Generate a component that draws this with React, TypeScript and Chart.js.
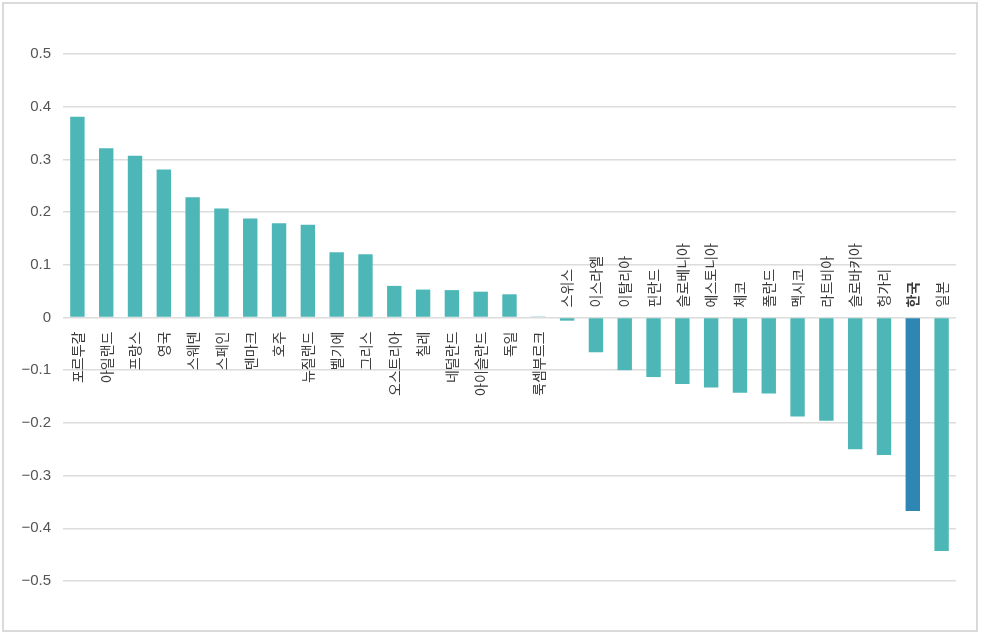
import React, { useEffect, useRef } from "react";
import { Chart, registerables } from "chart.js";

Chart.register(...registerables);

const categories: string[] = [
  "포르투갈", "아일랜드", "프랑스", "영국", "스웨덴", "스페인", "덴마크", "호주",
  "뉴질랜드", "벨기에", "그리스", "오스트리아", "칠레", "네덜란드", "아이슬란드", "독일",
  "룩셈부르크", "스위스", "이스라엘", "이탈리아", "핀란드", "슬로베니아", "에스토니아", "체코",
  "폴란드", "멕시코", "라트비아", "슬로바키아", "헝가리", "한국", "일본",
];

const values: number[] = [
  0.381, 0.321, 0.307, 0.281, 0.228, 0.207, 0.188, 0.179,
  0.176, 0.124, 0.120, 0.060, 0.053, 0.052, 0.049, 0.044,
  0.002, -0.006, -0.066, -0.100, -0.113, -0.126, -0.133, -0.143,
  -0.144, -0.188, -0.196, -0.250, -0.261, -0.367, -0.443,
];

const highlight = "한국";
const yMin = -0.5;
const yMax = 0.5;
const yStep = 0.1;

const TEAL = "#4db7b8";
const BLUE = "#2e86b2";

const labelPlugin = {
  id: "zeroLabels",
  afterDatasetsDraw(chart: any) {
    const { ctx, scales } = chart;
    const xs = scales.x;
    const ys = scales.y;
    const y0 = ys.getPixelForValue(0);
    categories.forEach((name, i) => {
      const x = xs.getPixelForValue(i);
      const v = values[i];
      ctx.save();
      ctx.fillStyle = "#3a3a3a";
      ctx.font = (name === highlight ? "bold " : "") + '14px "Noto Sans CJK KR", sans-serif';
      ctx.textBaseline = "middle";
      if (v >= 0) {
        ctx.translate(x, y0 + 14);
        ctx.rotate(-Math.PI / 2);
        ctx.textAlign = "right";
      } else {
        ctx.translate(x, y0 - 10);
        ctx.rotate(-Math.PI / 2);
        ctx.textAlign = "left";
      }
      ctx.fillText(name, 0, 0);
      ctx.restore();
    });
  },
};

export default function App() {
  const ref = useRef<HTMLCanvasElement | null>(null);
  useEffect(() => {
    if (!ref.current) return;
    const chart = new Chart(ref.current, {
      type: "bar",
      data: {
        labels: categories,
        datasets: [
          {
            data: values,
            backgroundColor: categories.map((c) => (c === highlight ? BLUE : TEAL)),
            barPercentage: 0.5,
            categoryPercentage: 1,
          },
        ],
      },
      options: {
        animation: false,
        responsive: false,
        layout: { padding: { left: 0, top: 54, right: 27, bottom: 56 } },
        plugins: { legend: { display: false }, tooltip: { enabled: false } },
        scales: {
          x: { display: false },
          y: {
            min: yMin,
            max: yMax,
            afterFit: (s: any) => {
              s.width = 63;
            },
            border: { display: false },
            grid: { color: "#dcdcdc", lineWidth: 1.5, drawTicks: false },
            ticks: {
              stepSize: yStep,
              padding: 12,
              color: "#555555",
              font: { family: '"Liberation Sans", Arial, sans-serif', size: 15 },
              callback: (v: any) => {
                const n = Number(v);
                if (Math.abs(n) < 1e-9) return "0";
                return (n < 0 ? "−" : "") + Math.abs(n).toFixed(1);
              },
            },
          },
        },
      },
      plugins: [labelPlugin],
    });
    return () => chart.destroy();
  }, []);
  return (
    <div style={{ position: "fixed", left: 0, top: 0, width: 983, height: 637, background: "#fff" }}>
      <div
        style={{
          position: "absolute",
          left: 2,
          top: 2,
          width: 976,
          height: 630,
          border: "2px solid #dadada",
          boxSizing: "border-box",
        }}
      />
      <canvas ref={ref} width={983} height={637} style={{ position: "absolute", left: 0, top: 0 }} />
    </div>
  );
}
